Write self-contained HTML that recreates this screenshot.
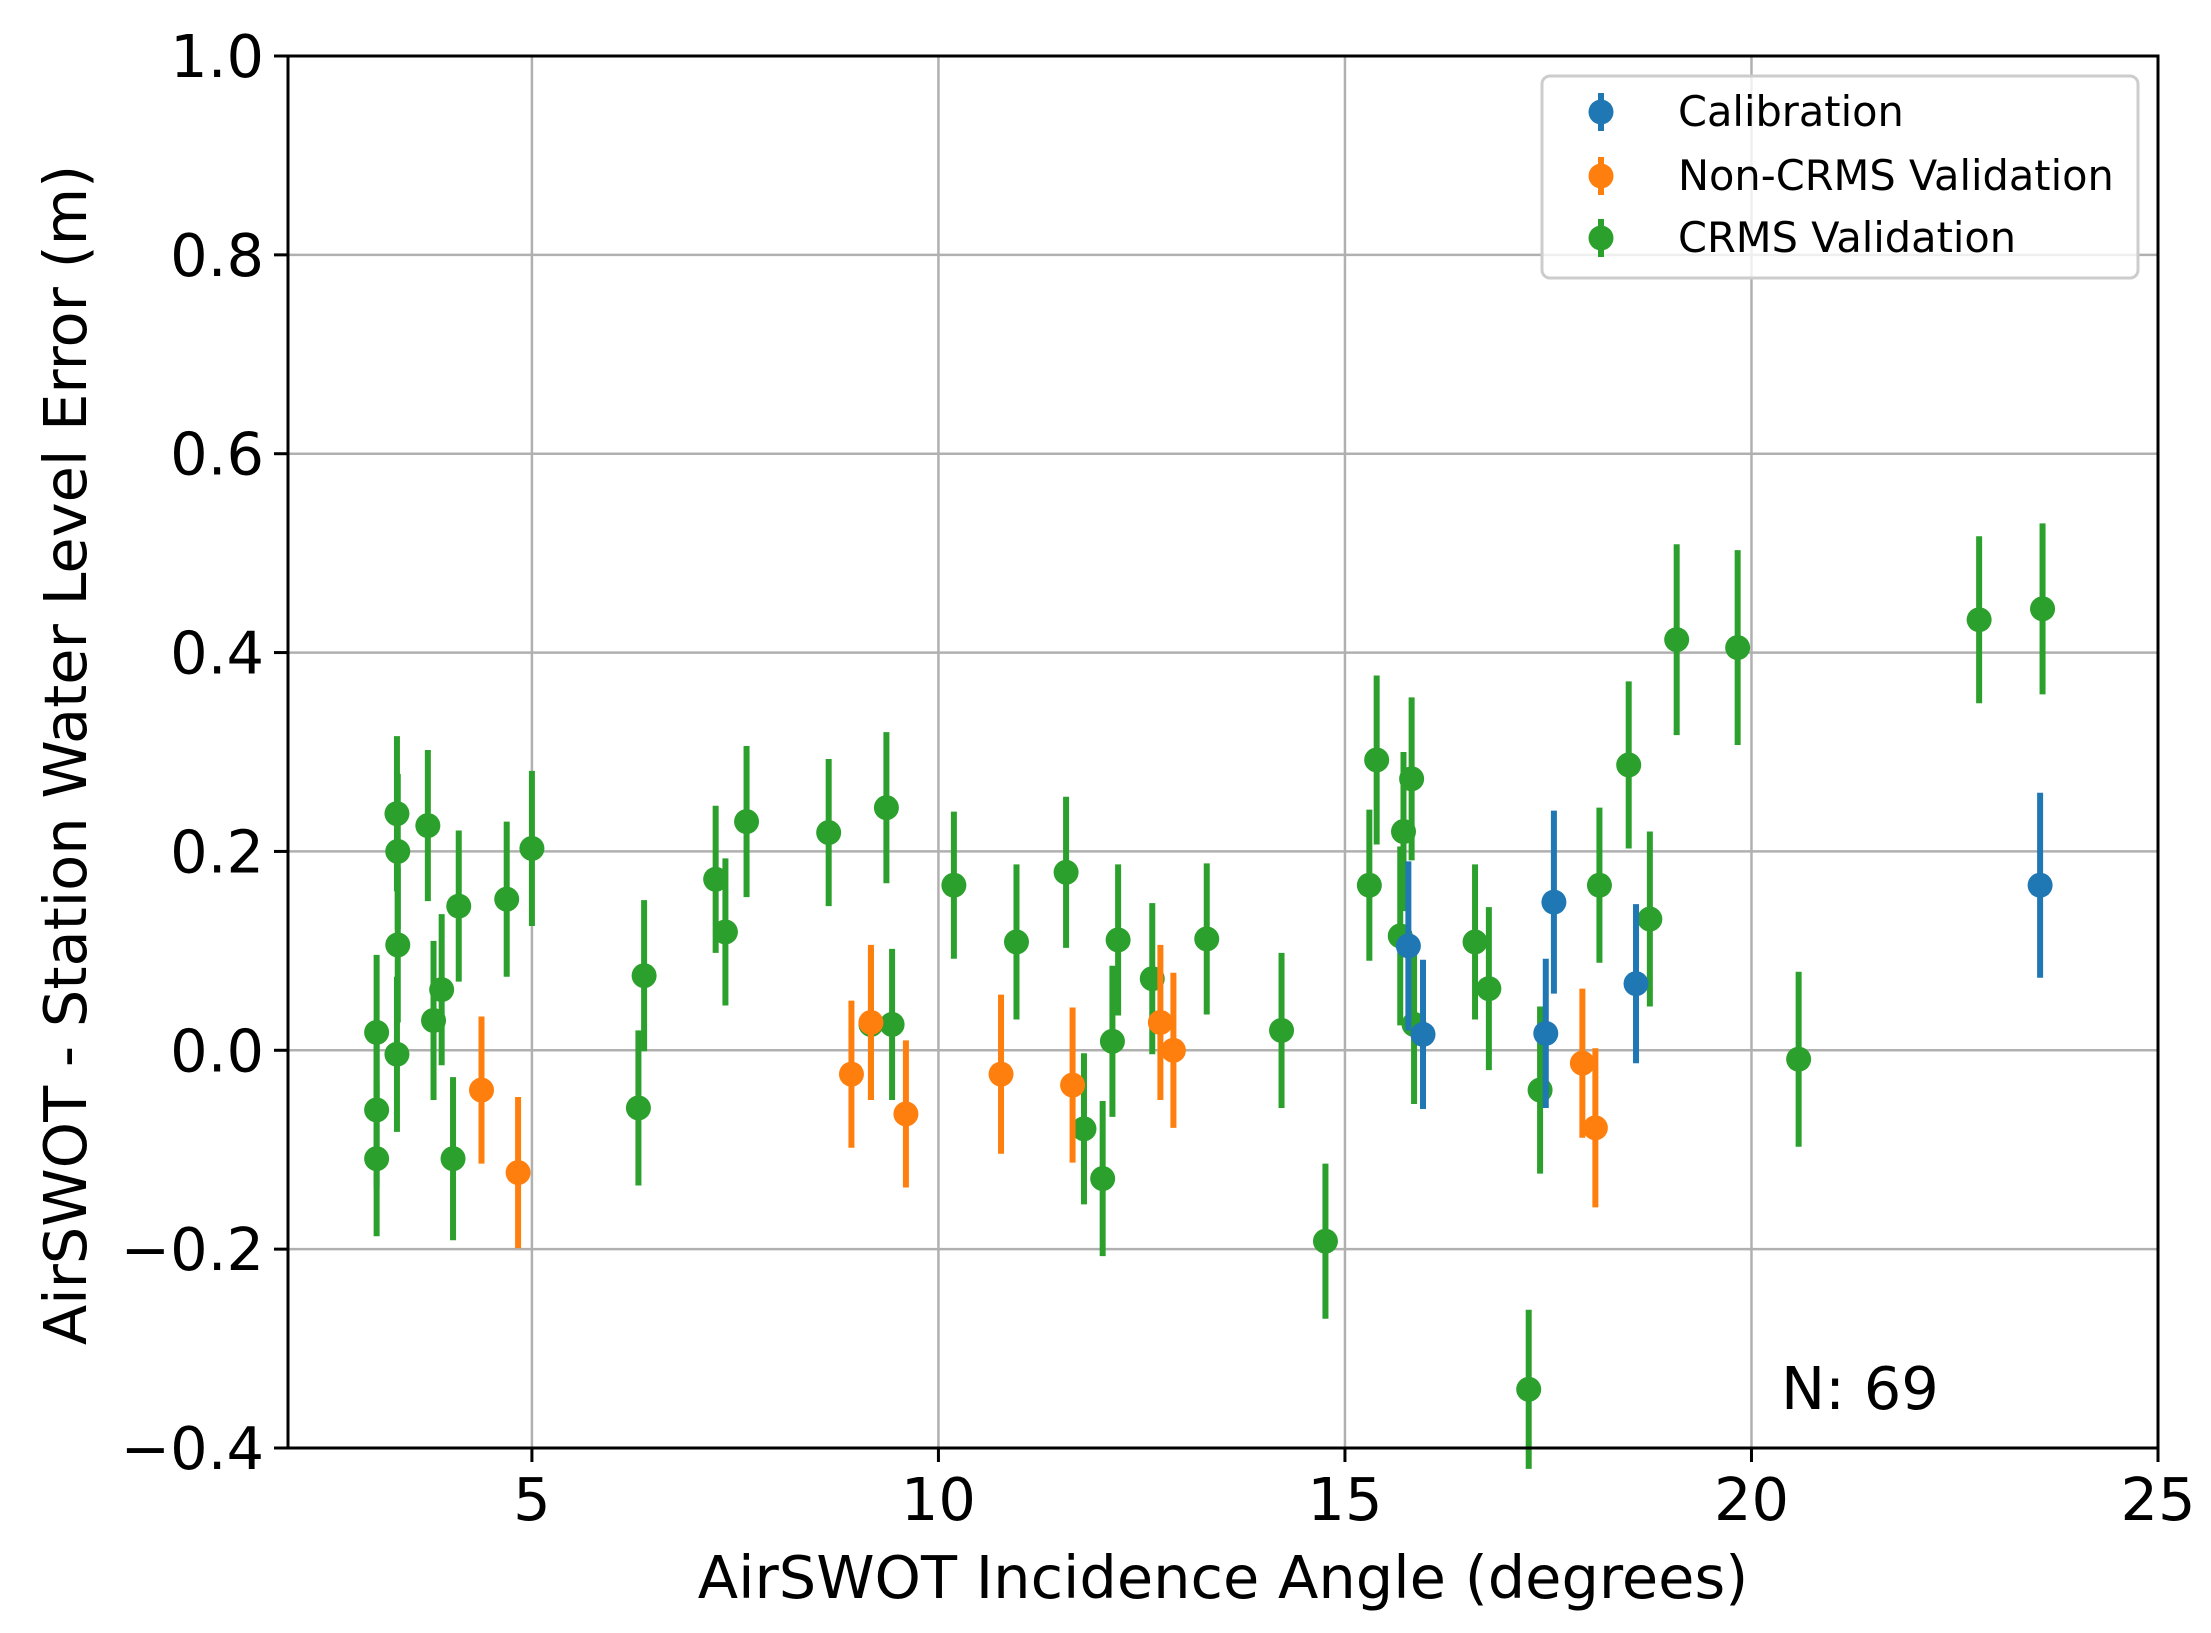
<!DOCTYPE html>
<html><head><meta charset="utf-8"><style>
html,body{margin:0;padding:0;background:#fff;}
svg{display:block;font-family:"DejaVu Sans","Liberation Sans",sans-serif;}
</style></head><body>
<svg id="chart" width="2211" height="1633" viewBox="0 0 2211 1633" xmlns="http://www.w3.org/2000/svg">
<rect width="2211" height="1633" fill="#fff"/>
<g id="grid"></g>
<g id="series"></g>
<rect x="288" y="56" width="1870" height="1392" fill="none" stroke="#000" stroke-width="3"/>
<g id="ticks"></g>
<text x="1223" y="1598" font-size="59" text-anchor="middle">AirSWOT Incidence Angle (degrees)</text>
<text transform="translate(86,755) rotate(-90)" font-size="59" text-anchor="middle">AirSWOT - Station Water Level Error (m)</text>
<text x="1781" y="1409" font-size="59">N: 69</text>
<g>
<rect x="1542" y="76" width="596" height="202" rx="8" fill="#fff" fill-opacity="0.8" stroke="#ccc" stroke-width="3"/>
<g><line x1="1601" x2="1601" y1="93" y2="131" stroke="#1f77b4" stroke-width="6"/><circle cx="1601" cy="112" r="12.5" fill="#1f77b4"/><text x="1678" y="126" font-size="41.5">Calibration</text></g>
<g><line x1="1601" x2="1601" y1="157" y2="195" stroke="#ff7f0e" stroke-width="6"/><circle cx="1601" cy="176" r="12.5" fill="#ff7f0e"/><text x="1678" y="190" font-size="41.5">Non-CRMS Validation</text></g>
<g><line x1="1601" x2="1601" y1="219" y2="257" stroke="#2ca02c" stroke-width="6"/><circle cx="1601" cy="238" r="12.5" fill="#2ca02c"/><text x="1678" y="252" font-size="41.5">CRMS Validation</text></g>
</g>
</svg>
<script>
const xTicks=[5,10,15,20,25];
const yTicks=[-0.4,-0.2,0.0,0.2,0.4,0.6,0.8,1.0];
const yTickLabels=["\u22120.4","\u22120.2","0.0","0.2","0.4","0.6","0.8","1.0"];
const crmsX=[3.09,3.09,3.09,3.34,3.35,3.35,3.34,3.72,3.79,3.89,4.03,4.10,4.69,5.0,6.31,6.38,7.26,7.38,7.64,8.65,9.17,9.36,9.43,10.19,10.96,11.57,11.79,12.02,12.14,12.21,12.63,13.30,14.22,14.76,15.30,15.39,15.72,15.68,15.82,15.85,16.60,16.77,17.26,17.40,18.13,18.49,18.75,19.08,19.83,20.58,22.80,23.58];
const crmsY=[-0.109,-0.06,0.018,0.238,0.20,0.106,-0.004,0.226,0.03,0.061,-0.109,0.145,0.152,0.203,-0.058,0.075,0.172,0.119,0.23,0.219,0.026,0.244,0.026,0.166,0.109,0.179,-0.079,-0.129,0.009,0.111,0.072,0.112,0.02,-0.192,0.166,0.292,0.22,0.115,0.273,0.026,0.109,0.062,-0.341,-0.04,0.166,0.287,0.132,0.413,0.405,-0.009,0.433,0.444];
const crmsErr=[0.078,0.078,0.078,0.078,0.078,0.078,0.078,0.076,0.08,0.076,0.082,0.076,0.078,0.078,0.078,0.076,0.074,0.074,0.076,0.074,0.076,0.076,0.076,0.074,0.078,0.076,0.076,0.078,0.076,0.076,0.076,0.076,0.078,0.078,0.076,0.085,0.08,0.09,0.082,0.08,0.078,0.082,0.08,0.084,0.078,0.084,0.088,0.096,0.098,0.088,0.084,0.086];
const calX=[15.78,15.96,17.47,17.57,18.58,23.55];
const calY=[0.105,0.016,0.017,0.149,0.067,0.166];
const calErr=[0.085,0.075,0.075,0.092,0.08,0.093];
const ncX=[4.38,4.83,8.93,9.17,9.60,10.77,11.65,12.73,12.89,17.92,18.08];
const ncY=[-0.04,-0.123,-0.024,0.028,-0.064,-0.024,-0.035,0.028,0.0,-0.013,-0.078];
const ncErr=[0.074,0.076,0.074,0.078,0.074,0.08,0.078,0.078,0.078,0.075,0.08];

const X0=288,X1=2158,Y0=1448,Y1=56,XMIN=2,XMAX=25,YMIN=-0.4,YMAX=1.0;
function sx(v){return X0+(v-XMIN)/(XMAX-XMIN)*(X1-X0);}
function sy(v){return Y0-(v-YMIN)/(YMAX-YMIN)*(Y0-Y1);}
const NS="http://www.w3.org/2000/svg";
function mk(tag,attrs,parent){const e=document.createElementNS(NS,tag);for(const k in attrs)e.setAttribute(k,attrs[k]);parent.appendChild(e);return e;}
const grid=document.getElementById('grid'),ticks=document.getElementById('ticks'),series=document.getElementById('series');
xTicks.forEach(t=>{
  const x=sx(t);
  const g=mk('line',{x1:x,x2:x,y1:Y1,y2:Y0,stroke:'#b0b0b0','stroke-width':2.5},grid);
  
  
  const tk=mk('line',{x1:x,x2:x,y1:Y0,y2:Y0+14,stroke:'#000','stroke-width':3},ticks);
  
  
  const tx=mk('text',{x:x,y:Y0+72,'font-size':59,'text-anchor':'middle'},ticks);
  tx.textContent=String(t);
  
  
});
yTicks.forEach((t,i)=>{
  const y=sy(t);
  const g=mk('line',{x1:X0,x2:X1,y1:y,y2:y,stroke:'#b0b0b0','stroke-width':2.5},grid);
  
  
  const tk=mk('line',{x1:X0-14,x2:X0,y1:y,y2:y,stroke:'#000','stroke-width':3},ticks);
  
  
  const tx=mk('text',{x:X0-24,y:y+21,'font-size':59,'text-anchor':'end'},ticks);
  tx.textContent=yTickLabels[i];
  
  
});
function draw(xs,ys,es,color,name){
  const g=mk('g',{},series);
  
  
  xs.forEach((v,i)=>{
    const l=mk('line',{x1:sx(v),x2:sx(v),y1:sy(ys[i]-es[i]),y2:sy(ys[i]+es[i]),stroke:color,'stroke-width':6},g);
    
    
    const c=mk('circle',{cx:sx(v),cy:sy(ys[i]),r:12.5,fill:color},g);
    
    
  });
}
draw(crmsX,crmsY,crmsErr,'#2ca02c','crms');
draw(calX,calY,calErr,'#1f77b4','calibration');
draw(ncX,ncY,ncErr,'#ff7f0e','non-crms');
</script>
</body></html>
